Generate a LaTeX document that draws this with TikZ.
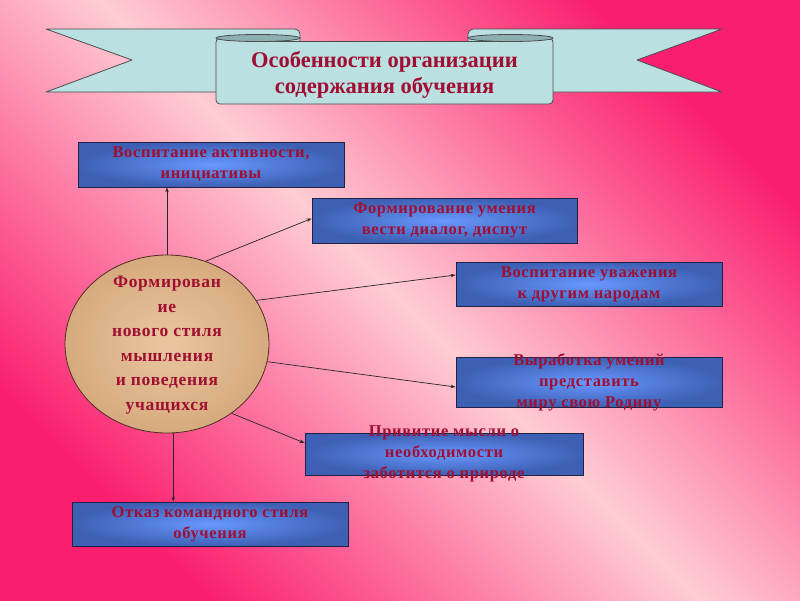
\documentclass[tikz,border=0pt]{standalone}
\usepackage{fontspec}
\setmainfont{Liberation Serif}
\newfontfamily\boxfont[LetterSpace=4]{Liberation Serif}
\usetikzlibrary{shapes.geometric,arrows.meta,calc}
\definecolor{bgdark}{RGB}{250,30,110}
\definecolor{bglight}{RGB}{255,205,212}
\definecolor{ribbon}{RGB}{186,224,226}
\definecolor{ribbondark}{RGB}{140,176,178}
\definecolor{txtred}{RGB}{160,15,50}
\definecolor{boxlight}{RGB}{104,152,255}
\definecolor{boxdark}{RGB}{62,96,180}
\definecolor{boxline}{RGB}{30,35,70}
\definecolor{tanlight}{RGB}{234,198,160}
\definecolor{tandark}{RGB}{214,170,126}
\definecolor{tanline}{RGB}{80,45,30}
\begin{document}
\begin{tikzpicture}[x=1pt,y=-1pt,
  rib/.style={draw=black!70, line width=0.8pt, fill=ribbon, line join=round},
  box/.style={rectangle, draw=boxline, line width=0.8pt, inner color=boxlight, outer color=boxdark, inner sep=0pt},
  boxtxt/.style={text=txtred, font=\boxfont\bfseries\fontsize{16.5}{21}\selectfont, align=center, inner sep=0pt},
  circtxt/.style={text=txtred, font=\boxfont\bfseries\fontsize{17.5}{24.5}\selectfont, align=center, inner sep=0pt},
  titletxt/.style={text=txtred, font=\bfseries\fontsize{22.5}{26}\selectfont, align=center, inner sep=0pt},
  conn/.style={draw=black!85, line width=0.7pt, -{Stealth[length=5pt,width=3.5pt]}}]
% background
\shade[top color=bgdark, bottom color=bgdark, middle color=bglight, shading angle=-45] (0,0) rectangle (800,600);
\useasboundingbox (0,0) rectangle (800,600);
% ribbon banner
\draw[rib, rounded corners=5] (46,29) -- (300,29) -- (300,92) [sharp corners] -- (46,92) -- (132,60) -- cycle;
\draw[rib, rounded corners=5] (722,29) -- (468,29) -- (468,92) [sharp corners] -- (722,92) -- (637,60) -- cycle;
\draw[rib, rounded corners=4] (216,38) -- (216,104) -- (553,104) -- (553,38) -- (510.5,41.5) -- (258,41.5) -- cycle;
\draw[rib, fill=ribbondark] (258,38) ellipse [x radius=42, y radius=3.5];
\draw[rib, fill=ribbondark] (510.5,38) ellipse [x radius=42.5, y radius=3.5];
\node[titletxt] (tt) at (384.5,75) {Особенности организации\\содержания обучения};
% central ellipse
\node[ellipse, draw=tanline, line width=0.8pt, inner color=tanlight, outer color=tandark, minimum width=204, minimum height=178, inner sep=0pt] (c) at (167,344) {};
\node[circtxt] (ct) at (167,345) {Формирован\\ие\\нового стиля\\мышления\\и поведения\\учащихся};
% boxes
\node[box, minimum width=266, minimum height=45] (b1) at (211,164.5) {};
\node[box, minimum width=265, minimum height=45] (b2) at (444.5,220.5) {};
\node[box, minimum width=266, minimum height=44] (b3) at (589,284) {};
\node[box, minimum width=266, minimum height=50] (b4) at (589,382) {};
\node[box, minimum width=278, minimum height=42] (b5) at (444,454) {};
\node[box, minimum width=276, minimum height=44] (b6) at (210,524) {};
\node[boxtxt] (t1) at (b1) {Воспитание активности,\\инициативы};
\node[boxtxt] (t2) at (b2) {Формирование умения\\вести диалог, диспут};
\node[boxtxt] (t3) at (b3) {Воспитание уважения\\к другим народам};
\node[boxtxt] (t4) at (b4) {Выработка умений\\представить\\миру свою Родину};
\node[boxtxt] (t5) at (b5) {Привитие мысли о\\необходимости\\заботится о природе};
\node[boxtxt] (t6) at (b6) {Отказ командного стиля\\обучения};
% connectors
\draw[conn] (c.north) -- (c.north |- b1.south);
\draw[conn] (c.65) -- ([yshift=2pt]b2.west);
\draw[conn] (c.26.6) -- ([yshift=9pt]b3.west);
\draw[conn] (c.-10.8) -- ([yshift=-5pt]b4.west);
\draw[conn] (c.-47.6) -- ([yshift=11pt]b5.west);
\draw[conn] (c.-86) -- (c.-86 |- b6.north);
\end{tikzpicture}
\end{document}
